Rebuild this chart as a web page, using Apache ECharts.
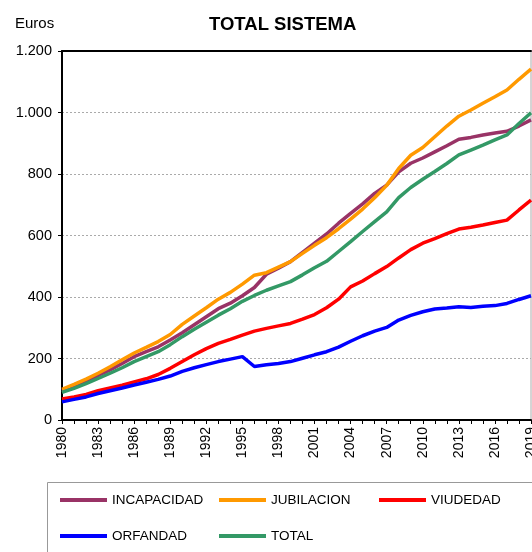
<!DOCTYPE html>
<html>
<head>
<meta charset="utf-8">
<script src="https://cdn.jsdelivr.net/npm/echarts@6/dist/echarts.min.js"></script>
<style>
  html, body { margin: 0; padding: 0; background: #fff; }
  #chart { width: 532px; height: 552px; }
</style>
</head>
<body>
<div id="chart"></div>
<script>
const years = ['1980','1981','1982','1983','1984','1985','1986','1987','1988','1989',
  '1990','1991','1992','1993','1994','1995','1996','1997','1998','1999',
  '2000','2001','2002','2003','2004','2005','2006','2007','2008','2009',
  '2010','2011','2012','2013','2014','2015','2016','2017','2018','2019'];

const incapacidad = [95,110,127,145,163,184,206,222,238,260,
  284,310,336,362,380,404,431,474,494,515,
  545,575,605,640,672,703,737,764,807,835,
  852,872,892,913,919,927,933,939,956,976];

const jubilacion = [100,116,133,152,173,196,218,236,255,278,
  311,338,365,393,415,442,471,479,497,515,
  542,568,593,622,653,686,723,763,818,861,
  886,921,956,988,1008,1030,1051,1073,1108,1141];

const viudedad = [68,75,83,95,104,113,124,134,148,168,
  190,212,232,249,262,276,289,298,306,314,
  328,343,365,393,433,452,476,499,527,554,
  575,590,606,621,627,634,642,650,683,715];

const orfandad = [59,67,75,86,95,104,114,123,132,143,
  158,170,180,190,198,206,174,180,184,190,
  201,212,222,237,256,274,289,301,325,340,
  352,361,364,368,366,370,372,379,392,404];

const total = [90,103,118,135,152,170,190,206,222,245,
  271,295,318,341,362,386,405,422,436,450,
  472,495,516,548,580,613,645,677,723,756,
  783,808,834,862,878,894,911,927,964,999];

const seriesNames = ['INCAPACIDAD','JUBILACION','VIUDEDAD','ORFANDAD','TOTAL'];
const seriesColors = ['#993366','#FF9900','#FF0000','#0000FF','#339966'];
const seriesData = [incapacidad, jubilacion, viudedad, orfandad, total];

const FONT = "'Liberation Sans', Arial, sans-serif";

const chart = echarts.init(document.getElementById('chart'), null, {renderer: 'canvas'});

const legendPos = [
  {left: 60, top: 493},
  {left: 219, top: 493},
  {left: 379, top: 493},
  {left: 60, top: 529},
  {left: 219, top: 529}
];

const option = {
  animation: false,
  backgroundColor: '#fff',
  title: [
    {text: 'TOTAL SISTEMA', left: 204, top: 10,
     textStyle: {fontFamily: FONT, fontSize: 18.5, fontWeight: 'bold', color: '#000'}},
    {text: 'Euros', left: 10, top: 11,
     textStyle: {fontFamily: FONT, fontSize: 15, fontWeight: 'normal', color: '#000'}}
  ],
  grid: {left: 62, right: 1, top: 51, bottom: 132, show: true,
         outerBoundsMode: 'none', containLabel: false,
         borderColor: '#aaa', borderWidth: 1, backgroundColor: 'transparent'},
  legend: seriesNames.map((n, i) => ({
    data: [n], left: legendPos[i].left, top: legendPos[i].top,
    itemWidth: 47, itemHeight: 4, icon: 'rect', padding: 0,
    textStyle: {fontFamily: FONT, fontSize: 13.5, color: '#000'}
  })),
  graphic: [{
    type: 'rect', shape: {x: 47.5, y: 482.5, width: 560, height: 120},
    style: {fill: 'none', stroke: '#999', lineWidth: 1}, silent: true, z: -1
  }],
  xAxis: [{
    type: 'category', data: years, boundaryGap: false, position: 'bottom',
    axisLine: {lineStyle: {color: '#000', width: 2}},
    axisTick: {show: true, interval: 0, length: 4, lineStyle: {color: '#000'}},
    axisLabel: {interval: 2, rotate: 90, margin: 7, fontFamily: FONT, fontSize: 14, color: '#000',
      showMaxLabel: true},
    splitLine: {show: false}
  }, {
    type: 'category', data: years, boundaryGap: false, position: 'top',
    axisLine: {lineStyle: {color: '#000', width: 2}},
    axisTick: {show: false}, axisLabel: {show: false}, splitLine: {show: false}
  }],
  yAxis: {
    type: 'value', min: 0, max: 1200, interval: 200,
    axisLine: {show: true, lineStyle: {color: '#000', width: 2}},
    axisTick: {show: true, length: 4, lineStyle: {color: '#000'}},
    axisLabel: {margin: 10, fontFamily: FONT, fontSize: 14.5, color: '#000',
      formatter: v => String(v).replace(/\B(?=(\d{3})+(?!\d))/g, '.')},
    splitLine: {show: true, lineStyle: {color: '#aaa', type: [2, 2], width: 1}}
  },
  series: seriesNames.map((n, i) => ({
    name: n, type: 'line', data: seriesData[i], xAxisIndex: 0,
    symbol: 'none', smooth: false,
    lineStyle: {color: seriesColors[i], width: 3.5},
    itemStyle: {color: seriesColors[i]}
  }))
};

chart.setOption(option);
</script>
</body>
</html>
